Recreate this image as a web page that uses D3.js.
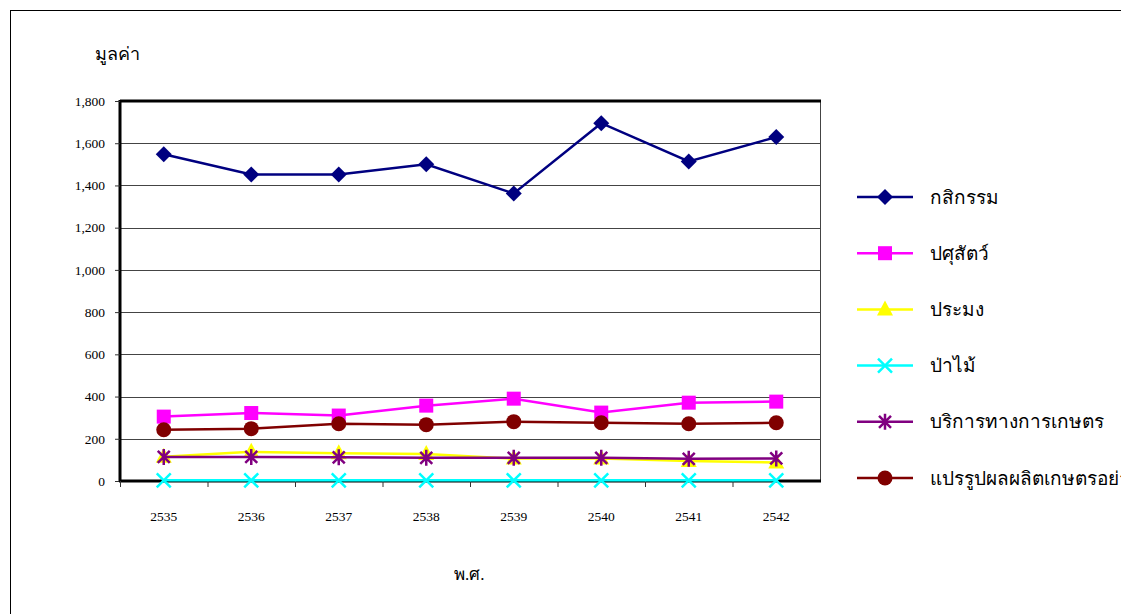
<!DOCTYPE html>
<html lang="th">
<meta charset="utf-8">
<style>
body { margin: 0; background: #fff; }
text { font-family: "Liberation Serif", "Noto Sans", serif; }
</style>
<body>
<script src="https://d3js.org/d3.v7.min.js"></script>
<div id="chart"></div>
<script>
// data
var years = ["2535", "2536", "2537", "2538", "2539", "2540", "2541", "2542"];
var yTicks = [0, 200, 400, 600, 800, 1000, 1200, 1400, 1600, 1800];

var agriculture = [1548, 1452, 1452, 1500, 1362, 1695, 1514, 1629];
var livestock   = [305, 322, 310, 357, 390, 324, 371, 376];
var fishery     = [115, 138, 132, 128, 106, 106, 95, 88];
var forestry    = [3, 3, 3, 3, 3, 3, 3, 3];
var services    = [114, 114, 112, 110, 110, 110, 105, 107];
var processing  = [243, 248, 271, 267, 281, 276, 271, 276];

var names  = ["กสิกรรม", "ปศุสัตว์", "ประมง", "ป่าไม้", "บริการทางการเกษตร", "แปรรูปผลผลิตเกษตรอย่างง่าย"];
var colors = ["#000080", "#ff00ff", "#ffff00", "#00ffff", "#800080", "#800000"];
var shapes = ["diamond", "square", "triangle", "x", "star", "circle"];
var values = [agriculture, livestock, fishery, forestry, services, processing];

var W = 1121, H = 614;
var plot = {left: 120, right: 820, top: 101, bottom: 481};

var svg = d3.select("#chart").append("svg")
    .attr("width", W)
    .attr("height", H);

// outer frame
svg.append("rect")
    .attr("x", 10.5).attr("y", 10.5)
    .attr("width", 1130).attr("height", 640)
    .attr("fill", "none").attr("stroke", "#000").attr("stroke-width", 1);

var x = d3.scaleBand().domain(years).range([plot.left, plot.right]);
var y = d3.scaleLinear().domain([0, 1800]).range([plot.bottom, plot.top]);

// grid lines
svg.append("g").selectAll("line")
    .data(yTicks.slice(1, -1))
  .enter().append("line")
    .attr("x1", plot.left).attr("x2", plot.right)
    .attr("y1", function(d) { return Math.round(y(d)) + 0.5; })
    .attr("y2", function(d) { return Math.round(y(d)) + 0.5; })
    .attr("stroke", "#444").attr("stroke-width", 1);

// plot border: thin right, thick top
svg.append("line")
    .attr("x1", plot.right + 0.5).attr("x2", plot.right + 0.5)
    .attr("y1", plot.top).attr("y2", plot.bottom)
    .attr("stroke", "#444");
svg.append("line")
    .attr("x1", plot.left).attr("x2", plot.right + 1)
    .attr("y1", plot.top).attr("y2", plot.top)
    .attr("stroke", "#000").attr("stroke-width", 3);

// y axis
var yAxis = svg.append("g")
    .attr("transform", "translate(" + plot.left + ",0)")
    .call(d3.axisLeft(y).tickValues(yTicks).tickFormat(d3.format(",")).tickSize(5).tickPadding(10));
yAxis.select(".domain").attr("stroke-width", 3).attr("d", "M0," + (plot.top - 1) + "V" + (plot.bottom + 1));
yAxis.selectAll(".tick line").attr("stroke", "#333");
yAxis.selectAll("text").attr("font-size", 13.5).attr("fill", "#000")
    .attr("font-family", "'Liberation Serif', serif");

// x axis, ticks between categories
var xAxis = svg.append("g")
    .attr("transform", "translate(0," + plot.bottom + ")")
    .call(d3.axisBottom(x).tickSize(0).tickPadding(30));
xAxis.select(".domain").attr("stroke-width", 3).attr("d", "M" + (plot.left - 1) + ",0H" + (plot.right + 1));
xAxis.selectAll("text").attr("font-size", 13.5).attr("fill", "#000")
    .attr("font-family", "'Liberation Serif', serif");
xAxis.selectAll(".bt")
    .data(years)
  .enter().append("line")
    .attr("class", "bt")
    .attr("x1", function(d) { return x(d) + 0.5; })
    .attr("x2", function(d) { return x(d) + 0.5; })
    .attr("y1", 0).attr("y2", 6)
    .attr("stroke", "#333");

// markers
function marker(g, shape, color) {
  if (shape == "diamond") {
    g.append("path").attr("d", "M0,-8L8,0L0,8L-8,0Z").attr("fill", color);
  } else if (shape == "square") {
    g.append("rect").attr("x", -7).attr("y", -7).attr("width", 14).attr("height", 14).attr("fill", color);
  } else if (shape == "triangle") {
    g.append("path").attr("d", "M0,-9L8,6L-8,6Z").attr("fill", color);
  } else if (shape == "circle") {
    g.append("circle").attr("r", 7.5).attr("fill", color);
  } else if (shape == "x") {
    g.append("path").attr("d", "M-7,-7L7,7M-7,7L7,-7")
        .attr("stroke", color).attr("stroke-width", 2.5).attr("fill", "none");
  } else if (shape == "star") {
    g.append("path").attr("d", "M-6,-6L6,6M-6,6L6,-6M0,-8V8")
        .attr("stroke", color).attr("stroke-width", 2.5).attr("fill", "none");
  }
}

var line = d3.line()
    .x(function(d, i) { return x(years[i]) + x.bandwidth() / 2; })
    .y(function(d) { return y(d); });

// draw in an order so forestry and services sit on top like the original
var order = [0, 1, 5, 2, 4, 3];
order.forEach(function(k) {
  var s = svg.append("g");
  s.append("path")
      .datum(values[k])
      .attr("d", line)
      .attr("fill", "none")
      .attr("stroke", colors[k])
      .attr("stroke-width", 2.5);
  s.selectAll(".m")
      .data(values[k])
    .enter().append("g")
      .attr("class", "m")
      .attr("transform", function(d, i) {
        return "translate(" + (x(years[i]) + x.bandwidth() / 2) + "," + y(d) + ")";
      })
      .each(function() { marker(d3.select(this), shapes[k], colors[k]); });
});

// legend
var legend = svg.append("g").selectAll("g")
    .data(names)
  .enter().append("g")
    .attr("transform", function(d, i) { return "translate(857," + (197 + i * 56.2) + ")"; });
legend.append("line")
    .attr("x1", 0).attr("x2", 56)
    .attr("stroke", function(d, i) { return colors[i]; })
    .attr("stroke-width", 2.5);
legend.append("g")
    .attr("transform", "translate(28,0)")
    .each(function(d, i) { marker(d3.select(this), shapes[i], colors[i]); });
legend.append("text")
    .attr("x", 73).attr("dy", "0.35em")
    .attr("font-size", 19)
    .text(function(d) { return d; });

// axis titles
svg.append("text")
    .attr("x", 95).attr("y", 60)
    .attr("font-size", 18)
    .text("มูลค่า");
svg.append("text")
    .attr("x", 454).attr("y", 580)
    .attr("font-size", 17)
    .text("พ.ศ.");
</script>
</body>
</html>
